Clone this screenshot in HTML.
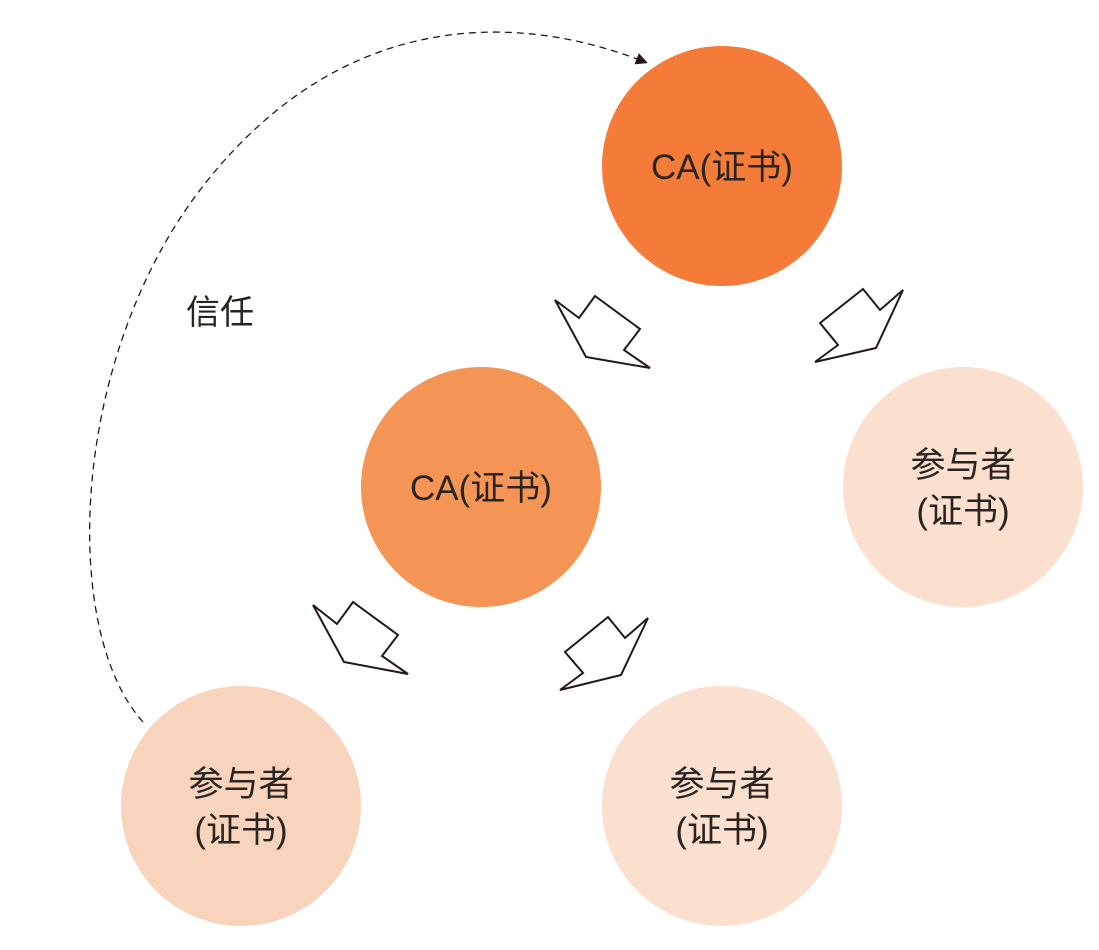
<!DOCTYPE html>
<html><head><meta charset="utf-8"><style>
html,body{margin:0;padding:0;background:#fff;}
svg text{font-family:"Liberation Sans","Noto Sans CJK SC",sans-serif;fill:#2a2420;}
</style></head><body>
<svg width="1099" height="945" viewBox="0 0 1099 945" xmlns="http://www.w3.org/2000/svg">
<defs><marker id="ah" markerWidth="12" markerHeight="12" refX="9" refY="6" orient="auto" markerUnits="userSpaceOnUse"><path d="M0,0 L12,6 L0,12 z" fill="#231815"/></marker></defs>
<path d="M143,722 C60,630 70,360 200,190 S500,5 645,62" fill="none" stroke="#231815" stroke-width="1.3" stroke-dasharray="7,5" marker-end="url(#ah)"/>
<text x="186" y="324" font-size="34">信任</text>
<circle cx="722" cy="166" r="120" fill="#f47c38"/>
<circle cx="481" cy="487" r="120" fill="#f59555"/>
<circle cx="963" cy="487" r="120" fill="#fbe0d0"/>
<circle cx="241" cy="806" r="120" fill="#f9d4bc"/>
<circle cx="722" cy="806" r="120" fill="#fbe0d0"/>
<g fill="#fff" stroke="#231815" stroke-width="2" stroke-linejoin="miter">
<polygon points="555,300 579,318 595,296 640,329 624,350 650,368 586,357"/>
<polygon points="903,290 880,310 863,289 820,323 838,345 815,362 876,348"/>
<polygon points="313,605 337,624 353,602 398,635 382,656 408,674 344,662"/>
<polygon points="648,618 625,638 608,617 565,652 583,673 560,690 621,675"/>
</g>
<g font-size="35" text-anchor="middle">
<text x="722" y="179">CA(证书)</text>
<text x="481" y="500">CA(证书)</text>
<text x="963" y="477">参与者</text>
<text x="963" y="523">(证书)</text>
<text x="241" y="796">参与者</text>
<text x="241" y="842">(证书)</text>
<text x="722" y="796">参与者</text>
<text x="722" y="842">(证书)</text>
</g>
</svg>
</body></html>
